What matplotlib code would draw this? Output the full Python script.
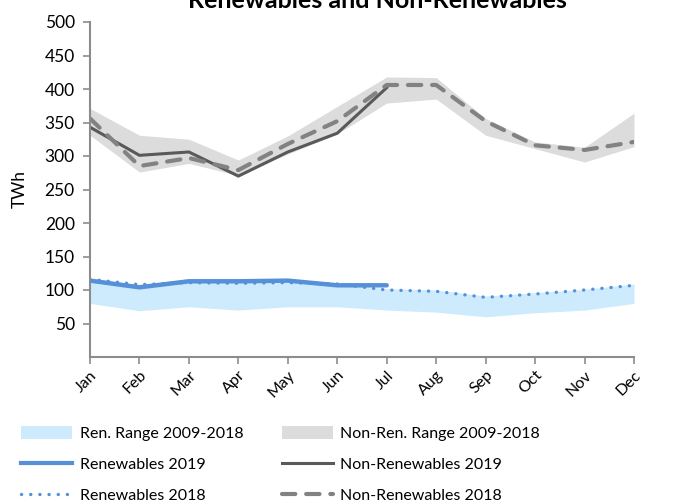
import matplotlib
matplotlib.use("Agg")
import matplotlib.pyplot as plt
from matplotlib.patches import Patch
from matplotlib.lines import Line2D

plt.rcParams['font.family'] = ['Lato', 'DejaVu Sans']

months = ['Jan', 'Feb', 'Mar', 'Apr', 'May', 'Jun', 'Jul', 'Aug', 'Sep', 'Oct', 'Nov', 'Dec']

nonren_2019 = [343, 301, 306, 270, 306, 334, 402]
nonren_2018 = [356, 285, 297, 279, 318, 352, 406, 406, 352, 316, 309, 321]
nonren_max = [371, 331, 325, 294, 330, 374, 418, 417, 356, 321, 313, 364]
nonren_min = [331, 276, 289, 271, 303, 333, 379, 385, 331, 311, 291, 314]

ren_2019 = [114, 104, 113, 113, 114, 107, 107]
ren_2018 = [116, 108, 111, 110, 111, 109, 100, 98, 89, 94, 100, 107]
ren_max = [117, 108, 117, 116, 117, 109, 102, 100, 91, 96, 101, 109]
ren_min = [80, 69, 75, 70, 75, 75, 70, 67, 60, 66, 70, 80]

yticks = [50, 100, 150, 200, 250, 300, 350, 400, 450, 500]

c_ren_band = '#cdebfd'
c_nonren_band = '#dcdcdc'
c_ren = '#5590d9'
c_nonren19 = '#595959'
c_nonren18 = '#828282'
c_axis = '#8c8c8c'

dot_style = (0, (0.05, 2.7))
dash_style = (0, (3.2, 2.6))

fig = plt.figure(figsize=(6.78, 5.04), dpi=100)
ax = fig.add_axes([90/678, 1-357/504, (634-90)/678, (357-22)/504])

x = list(range(len(months)))
ax.fill_between(x, ren_min, ren_max, color=c_ren_band, lw=0)
ax.fill_between(x, nonren_min, nonren_max, color=c_nonren_band, lw=0)

ax.plot(x, ren_2018, color=c_ren, lw=2.4, linestyle=dot_style, dash_capstyle='round')
ax.plot(x[:len(ren_2019)], ren_2019, color=c_ren, lw=3.2, solid_capstyle='round')
ax.plot(x[:len(nonren_2019)], nonren_2019, color=c_nonren19, lw=2.2)
ax.plot(x, nonren_2018, color=c_nonren18, lw=3.0, linestyle=dash_style, dash_capstyle='round')

ax.set_xlim(0, 11)
ax.set_ylim(0, 500)
ax.set_yticks(yticks)
ax.set_xticks(x)
ax.set_xticklabels(months, rotation=45, ha='right', va='top', rotation_mode='anchor', fontsize=11.5)
ax.tick_params(axis='y', labelsize=12.5, length=5, width=1.2, color=c_axis, pad=6)
ax.tick_params(axis='x', length=5, width=1.2, color=c_axis, pad=3)
for s in ['top', 'right']:
    ax.spines[s].set_visible(False)
for s in ['left', 'bottom']:
    ax.spines[s].set_color(c_axis)
    ax.spines[s].set_linewidth(1.5)
ax.set_ylabel('TWh', fontsize=12.5, labelpad=12)

fig.text(0.556, 1.0, 'Renewables and Non-Renewables', ha='center', va='center',
         fontsize=18, fontweight='bold')

handles = [
    Patch(facecolor=c_ren_band, edgecolor='none'),
    Line2D([], [], color=c_ren, lw=3.0),
    Line2D([], [], color=c_ren, lw=2.4, linestyle=dot_style, dash_capstyle='round'),
    Patch(facecolor=c_nonren_band, edgecolor='none'),
    Line2D([], [], color=c_nonren19, lw=2.2),
    Line2D([], [], color=c_nonren18, lw=3.0, linestyle=dash_style, dash_capstyle='round'),
]
labels = ['Ren. Range 2009-2018', 'Renewables 2019', 'Renewables 2018',
          'Non-Ren. Range 2009-2018', 'Non-Renewables 2019', 'Non-Renewables 2018']
fig.legend(handles, labels, ncol=2, loc='upper left', bbox_to_anchor=(0.022, 0.168),
           frameon=False, fontsize=11.5, handlelength=3.2, handleheight=0.95,
           handletextpad=0.45, columnspacing=2.4, labelspacing=0.98, borderaxespad=0)

fig.savefig('out.png', dpi=100)
